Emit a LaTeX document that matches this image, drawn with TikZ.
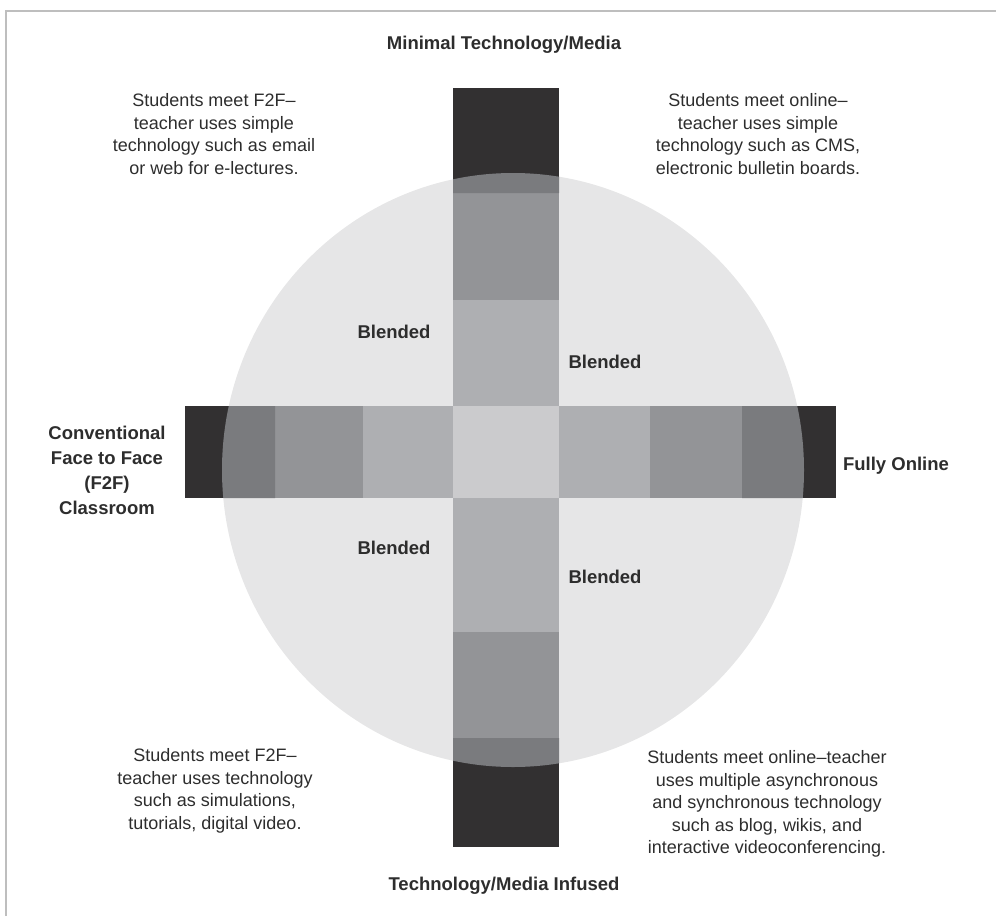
\documentclass[tikz,border=0pt]{standalone}
\usepackage{fontspec}
\setmainfont{Liberation Sans}
\usepackage{xcolor}
\definecolor{barblack}{RGB}{50, 48, 49}
\definecolor{bardark}{RGB}{122, 123, 126}
\definecolor{barmid}{RGB}{147, 148, 151}
\definecolor{barlight}{RGB}{174, 175, 178}
\definecolor{barcenter}{RGB}{203, 203, 205}
\definecolor{discfill}{RGB}{230, 230, 231}
\definecolor{framegray}{RGB}{190, 190, 190}
\definecolor{inkgray}{RGB}{45, 45, 45}
\usetikzlibrary{positioning}

\begin{document}
\begin{tikzpicture}[x=1pt, y=-1pt,
  notetext/.style={font=\fontsize{18}{22.5}\selectfont, align=center, text=inkgray, inner sep=0pt},
  axislabel/.style={font=\fontsize{18.5}{25}\selectfont\bfseries, align=center, text=inkgray, inner sep=0pt},
  blendlabel/.style={font=\fontsize{18.5}{22}\selectfont\bfseries, text=inkgray, inner sep=0pt}
]
\useasboundingbox (0,0) rectangle (996,916);
\draw[framegray, line width=1.2pt] (6,916) -- (6,11) -- (996,11);

\fill[discfill] (513,470) ellipse [x radius=291pt, y radius=297pt];

% horizontal bar
\fill[barblack] (185,406) rectangle (275,498);
\fill[barmid] (275,406) rectangle (363,498);
\fill[barlight] (363,406) rectangle (453,498);
\fill[barcenter] (453,406) rectangle (559,498);
\fill[barlight] (559,406) rectangle (650,498);
\fill[barmid] (650,406) rectangle (742,498);
\fill[barblack] (742,406) rectangle (836,498);
% vertical bar
\fill[barblack] (453,88) rectangle (559,193);
\fill[barmid] (453,193) rectangle (559,300);
\fill[barlight] (453,300) rectangle (559,406);
\fill[barlight] (453,498) rectangle (559,632);
\fill[barmid] (453,632) rectangle (559,738);
\fill[barblack] (453,738) rectangle (559,847);
% outer cells inside the disc
\begin{scope}
  \clip (513,470) ellipse [x radius=291pt, y radius=297pt];
  \fill[bardark] (185,406) rectangle (275,498) (742,406) rectangle (836,498)
    (453,88) rectangle (559,193) (453,738) rectangle (559,847);
\end{scope}

\node[axislabel] (minimal) at (504,45) {Minimal Technology/Media};
\node[axislabel] (infused) at (504,886) {Technology/Media Infused};
\node[axislabel] (conventional) at (107,470) {Conventional\\Face to Face\\(F2F)\\Classroom};
\node[axislabel] (online) at (896,466) {Fully Online};

\node[blendlabel] (blend_tl) at (394,332) {Blended};
\node[blendlabel] (blend_tr) at (605,362) {Blended};
\node[blendlabel] (blend_bl) at (394,548) {Blended};
\node[blendlabel] (blend_br) at (605,577) {Blended};

\node[notetext] (note_tl) at (214,134) {Students meet F2F--\\teacher uses simple\\technology such as email\\or web for e-lectures.};
\node[notetext] (note_tr) at (758,134) {Students meet online--\\teacher uses simple\\technology such as CMS,\\electronic bulletin boards.};
\node[notetext] (note_bl) at (215,791) {Students meet F2F--\\teacher uses technology\\such as simulations,\\tutorials, digital video.};
\node[notetext] (note_br) at (767,804) {Students meet online--teacher\\uses multiple asynchronous\\and synchronous technology\\such as blog, wikis, and\\interactive videoconferencing.};
\end{tikzpicture}
\end{document}
